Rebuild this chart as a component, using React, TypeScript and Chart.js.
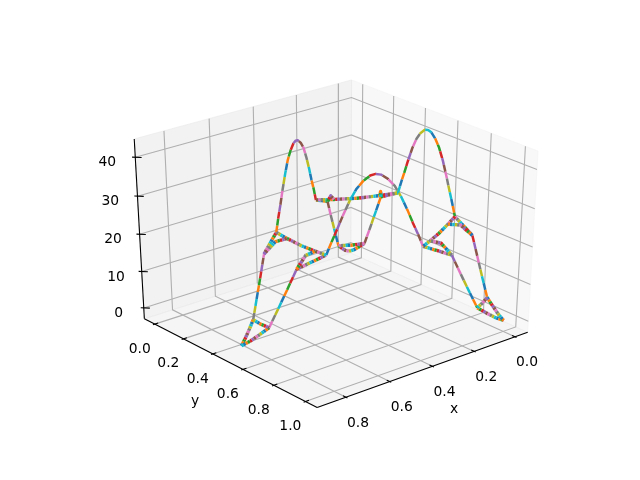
import React, { useEffect, useRef } from "react";
import Chart from "chart.js/auto";

// ---- axis limits and ticks
const xLim = [-0.0433, 0.9093];
const yLim = [-0.05, 1.05];
const zLim = [-2.08, 43.68];
const xTicks = [0, 0.2, 0.4, 0.6, 0.8];
const yTicks = [0, 0.2, 0.4, 0.6, 0.8, 1];
const zTicks = [0, 10, 20, 30, 40];
const xTickLabels = ["0.0", "0.2", "0.4", "0.6", "0.8"];
const yTickLabels = ["0.0", "0.2", "0.4", "0.6", "0.8", "1.0"];
const zTickLabels = ["0", "10", "20", "30", "40"];

// ---- the curve: the three outer edges of the triangle
const edgeZ = [0, 1.1, 2.6, 4.2, 9, 14, 19, 20.5, 22, 25.3, 28.4, 31.6, 35.3, 38.2, 40.1, 41.3, 41.6, 41.3, 40.1, 38.2, 35.3, 31.6, 28.4, 25.3, 22, 20.5, 19, 14, 9, 4.2, 2.6, 1.1, 0];
const edgeCAx = [0.866, 0.836, 0.805, 0.775, 0.745, 0.714, 0.684, 0.637, 0.589, 0.572, 0.554, 0.537, 0.515, 0.494, 0.472, 0.45, 0.433, 0.416, 0.394, 0.372, 0.351, 0.329, 0.312, 0.294, 0.277, 0.229, 0.182, 0.152, 0.121, 0.091, 0.061, 0.03, 0];
const edgeCAy = [0.5, 0.4825, 0.465, 0.4475, 0.43, 0.4125, 0.395, 0.3675, 0.34, 0.33, 0.32, 0.31, 0.2975, 0.285, 0.2725, 0.26, 0.25, 0.24, 0.2275, 0.215, 0.2025, 0.19, 0.18, 0.17, 0.16, 0.1325, 0.105, 0.0875, 0.07, 0.0525, 0.035, 0.0175, 0];
const edgeCBx = edgeCAx.slice();
const edgeCBy = [0.5, 0.5175, 0.535, 0.5525, 0.57, 0.5875, 0.605, 0.6325, 0.66, 0.67, 0.68, 0.69, 0.7025, 0.715, 0.7275, 0.74, 0.75, 0.76, 0.7725, 0.785, 0.7975, 0.81, 0.82, 0.83, 0.84, 0.8675, 0.895, 0.9125, 0.93, 0.9475, 0.965, 0.9825, 1];
const edgeABx = edgeZ.map(() => 0);
const edgeABy = [0, 0.035, 0.07, 0.105, 0.14, 0.175, 0.21, 0.265, 0.32, 0.34, 0.36, 0.38, 0.405, 0.43, 0.455, 0.48, 0.5, 0.52, 0.545, 0.57, 0.595, 0.62, 0.64, 0.66, 0.68, 0.735, 0.79, 0.825, 0.86, 0.895, 0.93, 0.965, 1];

// ---- the inner strands near each corner
const bridgeZ = [22, 21.7, 21.5, 21.7, 22];
const branchZ = [19, 21.6, 21.7];
const tipZ = [4.2, 4.0, 4.2];
const innerXs = [
  [0.589, 0.589, 0.589, 0.589, 0.589], [0.684, 0.637, 0.589], [0.684, 0.637, 0.589], [0.775, 0.775, 0.775],
  [0.277, 0.216, 0.139, 0.061, 0], [0.182, 0.199, 0.216], [0, 0.03, 0.061], [0.091, 0.045, 0],
  [0, 0.061, 0.139, 0.216, 0.277], [0, 0.03, 0.061], [0.182, 0.199, 0.216], [0, 0.045, 0.091],
];
const innerYs = [
  [0.34, 0.41, 0.5, 0.59, 0.66], [0.395, 0.403, 0.41], [0.605, 0.597, 0.59], [0.4475, 0.5, 0.5525],
  [0.16, 0.195, 0.24, 0.285, 0.32], [0.105, 0.15, 0.195], [0.21, 0.2475, 0.285], [0.0525, 0.079, 0.105],
  [0.68, 0.715, 0.76, 0.805, 0.84], [0.79, 0.7525, 0.715], [0.895, 0.85, 0.805], [0.895, 0.921, 0.9475],
];
const innerZs = [
  bridgeZ, branchZ, branchZ, tipZ,
  bridgeZ, branchZ, branchZ, tipZ,
  bridgeZ, branchZ, branchZ, tipZ,
];

const tab10 = ["#1f77b4", "#ff7f0e", "#2ca02c", "#d62728", "#9467bd", "#8c564b", "#e377c2", "#7f7f7f", "#bcbd22", "#17becf"];

// ---- camera
const AZIM = (50 * Math.PI) / 180;
const ELEV = (30 * Math.PI) / 180;
const DIST = 10;
const SX = 2680;
const SY = 2000;
const CX = 335;
const CY = 237.6;
const n = [Math.cos(ELEV) * Math.cos(AZIM), Math.cos(ELEV) * Math.sin(AZIM), Math.sin(ELEV)];
const u = [-Math.sin(AZIM), Math.cos(AZIM), 0];
const v = [n[1] * u[2] - n[2] * u[1], n[2] * u[0] - n[0] * u[2], n[0] * u[1] - n[1] * u[0]];
const OUT = 1 / 48;

function projectWorld(a: number, b: number, c: number) {
  const w = [a - 0.5, b - 0.5, c - 0.5];
  const d = DIST - (n[0] * w[0] + n[1] * w[1] + n[2] * w[2]);
  return {
    x: (u[0] * w[0] + u[1] * w[1] + u[2] * w[2]) / d,
    y: (v[0] * w[0] + v[1] * w[1] + v[2] * w[2]) / d,
  };
}
const nx = (x: number) => (x - xLim[0]) / (xLim[1] - xLim[0]);
const ny = (y: number) => (y - yLim[0]) / (yLim[1] - yLim[0]);
const nz = (z: number) => (z - zLim[0]) / (zLim[1] - zLim[0]);
const project = (x: number, y: number, z: number) => projectWorld(nx(x), ny(y), nz(z));

const LO = -OUT;
const HI = 1 + OUT;
const TICK_IN = 0.2 / 12;
const TICK_OUT = 0.1 / 12;

function poly(points: number[][], color: string) {
  return {
    data: points.map((p) => projectWorld(p[0], p[1], p[2])),
    showLine: true, fill: "shape", backgroundColor: color, borderColor: color, borderWidth: 1, pointRadius: 0, tension: 0,
  };
}
function seg(points: number[][], color: string, width: number) {
  return {
    data: points.map((p) => projectWorld(p[0], p[1], p[2])),
    showLine: true, fill: false, borderColor: color, borderWidth: width, pointRadius: 0, tension: 0,
  };
}
let strandCount = 0;
function strand(xs: number[], ys: number[], zs: number[], from: number, to: number, dash: number, width: number) {
  const pts: { x: number; y: number }[] = [];
  for (let i = from; i <= to; i++) pts.push(project(xs[i], ys[i], zs[i]));
  const start = strandCount * 3;
  strandCount += 1;
  return tab10.map((c, i) => ({
    data: pts,
    showLine: true, fill: false, borderColor: c, borderWidth: width, pointRadius: 0, tension: 0,
    borderJoinStyle: "round",
    borderDash: [dash, dash * 9], borderDashOffset: -((i + start) % 10) * dash,
  }));
}

function buildDatasets() {
  strandCount = 0;
  const out: any[] = [];
  // panes
  out.push(poly([[LO, LO, LO], [LO, HI, LO], [LO, HI, HI], [LO, LO, HI], [LO, LO, LO]], "rgba(242,242,242,0.5)"));
  out.push(poly([[LO, LO, LO], [HI, LO, LO], [HI, LO, HI], [LO, LO, HI], [LO, LO, LO]], "rgba(230,230,230,0.5)"));
  out.push(poly([[LO, LO, LO], [HI, LO, LO], [HI, HI, LO], [LO, HI, LO], [LO, LO, LO]], "rgba(236,236,236,0.5)"));
  // grid
  const grid = "#b0b0b0";
  xTicks.forEach((t) => out.push(seg([[nx(t), LO, HI], [nx(t), LO, LO], [nx(t), HI, LO]], grid, 1.1)));
  yTicks.forEach((t) => out.push(seg([[LO, ny(t), HI], [LO, ny(t), LO], [HI, ny(t), LO]], grid, 1.1)));
  zTicks.forEach((t) => out.push(seg([[HI, LO, nz(t)], [LO, LO, nz(t)], [LO, HI, nz(t)]], grid, 1.1)));
  // axis lines
  out.push(seg([[LO, HI, LO], [HI, HI, LO]], "#000", 1.1));
  out.push(seg([[HI, LO, LO], [HI, HI, LO]], "#000", 1.1));
  out.push(seg([[HI, LO, LO], [HI, LO, HI]], "#000", 1.1));
  // tick marks
  xTicks.forEach((t) => out.push(seg([[nx(t), HI - TICK_IN, LO], [nx(t), HI + TICK_OUT, LO]], "#000", 1.1)));
  yTicks.forEach((t) => out.push(seg([[HI - TICK_IN, ny(t), LO], [HI + TICK_OUT, ny(t), LO]], "#000", 1.1)));
  zTicks.forEach((t) => out.push(seg([[HI + TICK_OUT, LO - TICK_OUT, nz(t)], [HI - TICK_IN, LO + TICK_IN, nz(t)]], "#000", 1.1)));
  // curve
  const FINE = 2.4;
  const LONG = 7;
  const THIN = 2.5;
  const THICK = 3.4;
  const parts: [number, number, number, number][] = [
    [0, 3, FINE, THICK], [3, 6, LONG, THIN], [6, 8, FINE, THICK], [8, 24, LONG, THIN], [24, 26, FINE, THICK], [26, 29, LONG, THIN], [29, 32, FINE, THICK],
  ];
  const edges = [[edgeCAx, edgeCAy], [edgeCBx, edgeCBy], [edgeABx, edgeABy]];
  edges.forEach(([ex, ey]) => parts.forEach(([a, b, dash, width]) => out.push(...strand(ex, ey, edgeZ, a, b, dash, width))));
  innerXs.forEach((ix, k) => out.push(...strand(ix, innerYs[k], innerZs[k], 0, ix.length - 1, FINE, THICK)));
  return out.reverse();
}

const textPlugin = {
  id: "axisText",
  afterDatasetsDraw(chart: any) {
    const { ctx, scales } = chart;
    const px = (p: { x: number; y: number }) => [scales.x.getPixelForValue(p.x), scales.y.getPixelForValue(p.y)];
    ctx.save();
    ctx.fillStyle = "#000";
    ctx.font = '13.89px "DejaVu Sans"';
    ctx.textAlign = "center";
    ctx.textBaseline = "middle";
    xTicks.forEach((t, i) => {
      const [a, b] = px(projectWorld(nx(t), HI, LO));
      ctx.fillText(xTickLabels[i], a + 12, b + 26);
    });
    yTicks.forEach((t, i) => {
      const [a, b] = px(projectWorld(HI, ny(t), LO));
      ctx.fillText(yTickLabels[i], a - 15, b + 25);
    });
    zTicks.forEach((t, i) => {
      const [a, b] = px(projectWorld(HI, LO, nz(t)));
      ctx.fillText(zTickLabels[i], a - 25 - (3 * i) / 4, b + 5.5);
    });
    ctx.fillText("x", 454, 409);
    ctx.fillText("y", 195, 401);
    ctx.restore();
  },
};

export default function App() {
  const ref = useRef<HTMLCanvasElement>(null);
  useEffect(() => {
    const chart = new Chart(ref.current as HTMLCanvasElement, {
      type: "scatter",
      data: { datasets: buildDatasets() },
      options: {
        animation: false,
        responsive: false,
        events: [],
        layout: { padding: 0 },
        plugins: { legend: { display: false }, tooltip: { enabled: false } },
        scales: {
          x: { type: "linear", display: false, min: (0 - CX) / SX, max: (640 - CX) / SX },
          y: { type: "linear", display: false, min: (CY - 480) / SY, max: CY / SY },
        },
      },
      plugins: [textPlugin],
    } as any);
    return () => chart.destroy();
  }, []);
  return (
    <div style={{ position: "fixed", left: 0, top: 0, width: 640, height: 480, background: "#fff" }}>
      <canvas ref={ref} width={640} height={480} style={{ display: "block" }} />
    </div>
  );
}
